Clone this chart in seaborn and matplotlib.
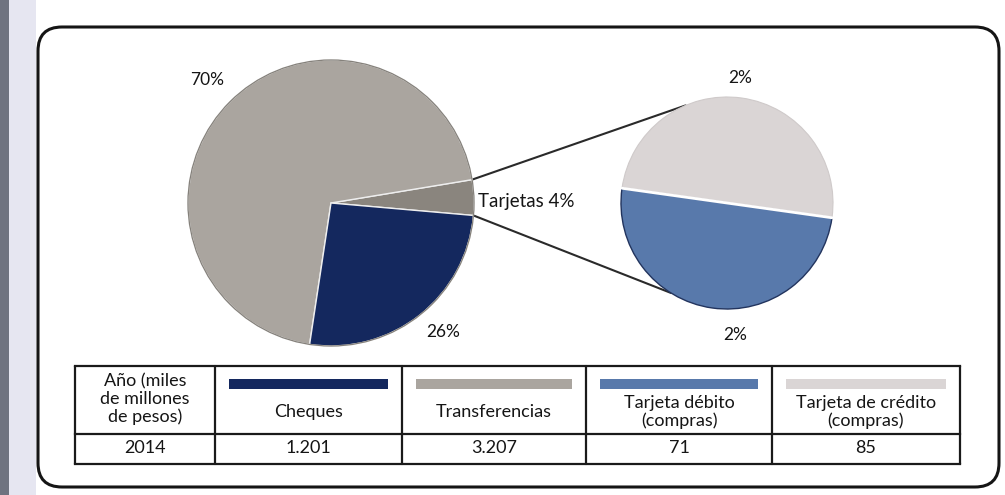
import numpy as np
import matplotlib
matplotlib.use("Agg")
import matplotlib.pyplot as plt
from matplotlib.patches import FancyBboxPatch, Rectangle
import seaborn as sns

# ---------------- data ----------------
share_labels = ["Tarjetas", "Transferencias", "Cheques"]
share_pct = [4, 70, 26]
card_labels = ["Tarjeta de crédito", "Tarjeta débito"]
card_pct = [2, 2]
table_header = "Año (miles\nde millones\nde pesos)"
table_year = "2014"
table_categories = ["Cheques", "Transferencias", "Tarjeta débito\n(compras)",
                    "Tarjeta de crédito\n(compras)"]
table_values = [1201, 3207, 71, 85]

# ---------------- style ----------------
sns.set_theme(style="white")
plt.rcParams["font.family"] = ["Lato", "DejaVu Sans"]

pal = sns.color_palette(["#14285e", "#aaa59f", "#8a857e", "#5879ab", "#dad5d5"])
c_cheq, c_transf, c_cards, c_deb, c_cred = pal
txt = "#151515"

W, H = 1005, 495
fig = plt.figure(figsize=(W / 100, H / 100), dpi=100)
ax = fig.add_axes([0, 0, 1, 1])


def Y(p):
    return H - p


# page edge strip on the left
ax.add_patch(Rectangle((0, 0), 9, H, facecolor="#6f7380", edgecolor="none", zorder=0))
ax.add_patch(Rectangle((9, 0), 27, H, facecolor="#e6e6f1", edgecolor="none", zorder=0))

# rounded frame
ax.add_patch(FancyBboxPatch((38, Y(487)), 961, 460,
                            boxstyle="round,pad=0,rounding_size=24",
                            facecolor="white", edgecolor="#151515", linewidth=2.2, zorder=0.5))

# ---------------- big pie ----------------
bcx, bcy, br = 331, Y(203), 143
wedges_big, _ = ax.pie(share_pct, colors=[c_cards, c_transf, c_cheq], startangle=-5,
                       counterclock=True, center=(bcx, bcy), radius=br, frame=True,
                       wedgeprops=dict(edgecolor="#eeeeee", linewidth=1.0))
for w in wedges_big:
    w.set_zorder(2)
circ = plt.Circle((bcx, bcy), br, fill=False, edgecolor="#85817b", linewidth=0.9, zorder=3)
ax.add_patch(circ)

# ---------------- small pie ----------------
scx, scy, sr = 727, Y(203), 106
wedges_small, _ = ax.pie(card_pct, colors=[c_cred, c_deb], startangle=-8,
                         counterclock=True, center=(scx, scy), radius=sr, frame=True,
                         wedgeprops=dict(edgecolor="none", linewidth=0))
for w in wedges_small:
    w.set_zorder(2)
wedges_small[0].set_edgecolor("#cfcaca")
wedges_small[0].set_linewidth(0.8)
wedges_small[1].set_edgecolor("#22345e")
wedges_small[1].set_linewidth(1.0)
a = np.deg2rad(wedges_small[0].theta1)
ax.plot([scx + sr * np.cos(a), scx - sr * np.cos(a)],
        [scy + sr * np.sin(a), scy - sr * np.sin(a)],
        color="white", linewidth=2.0, zorder=4)

# ---------------- connector lines ----------------
t_hi = np.deg2rad(wedges_big[0].theta2)
t_lo = np.deg2rad(wedges_big[0].theta1)
s_hi = np.deg2rad(113)
s_lo = np.deg2rad(-122)
ax.plot([bcx + br * np.cos(t_hi), scx + sr * np.cos(s_hi)],
        [bcy + br * np.sin(t_hi), scy + sr * np.sin(s_hi)], color="#2a2a2a", lw=1.5, zorder=1)
ax.plot([bcx + br * np.cos(t_lo), scx + sr * np.cos(s_lo)],
        [bcy + br * np.sin(t_lo), scy + sr * np.sin(s_lo)], color="#2a2a2a", lw=1.5, zorder=1)

# ---------------- labels ----------------
fs_lab = 12.5
ax.text(207, Y(80), f"{share_pct[1]}%", ha="center", va="center", fontsize=fs_lab, color=txt, zorder=5)
ax.text(443, Y(332), f"{share_pct[2]}%", ha="center", va="center", fontsize=fs_lab, color=txt, zorder=5)
ax.text(478, Y(202), f"{share_labels[0]} {share_pct[0]}%", ha="left", va="center",
        fontsize=13.5, color=txt, zorder=5)
ax.text(740, Y(78), f"{card_pct[0]}%", ha="center", va="center", fontsize=fs_lab, color=txt, zorder=5)
ax.text(735, Y(335), f"{card_pct[1]}%", ha="center", va="center", fontsize=fs_lab, color=txt, zorder=5)

# ---------------- table ----------------
xs = [75, 215, 402, 586, 772, 960]
yt, ym, yb = 366, 434, 464
lc = "#1a1a1a"
for yy in (yt, ym, yb):
    ax.plot([xs[0], xs[-1]], [Y(yy), Y(yy)], color=lc, lw=1.6, zorder=3, solid_capstyle="projecting")
for xx in xs:
    ax.plot([xx, xx], [Y(yt), Y(yb)], color=lc, lw=1.6, zorder=3)

fs_tab = 13
ax.text((xs[0] + xs[1]) / 2, Y(399), table_header, ha="center", va="center",
        fontsize=fs_tab, color=txt, linespacing=1.1, zorder=4)
ax.text((xs[0] + xs[1]) / 2, Y(448), table_year, ha="center", va="center",
        fontsize=fs_tab, color=txt, zorder=4)

bar_cols = [c_cheq, c_transf, c_deb, c_cred]
for i, (cat, val) in enumerate(zip(table_categories, table_values)):
    x0, x1 = xs[i + 1], xs[i + 2]
    cx = (x0 + x1) / 2
    ax.add_patch(Rectangle((x0 + 14, Y(389)), (x1 - x0) - 28, 10,
                           facecolor=bar_cols[i], edgecolor="none", zorder=4))
    ax.text(cx, Y(412), cat, ha="center", va="center", fontsize=fs_tab, color=txt,
            linespacing=1.1, zorder=4)
    ax.text(cx, Y(448), f"{val:,}".replace(",", "."), ha="center", va="center",
            fontsize=fs_tab, color=txt, zorder=4)

ax.set_xlim(0, W)
ax.set_ylim(0, H)
ax.set_aspect("equal", adjustable="box")
ax.axis("off")

fig.savefig("out.png", dpi=100, facecolor="white")
